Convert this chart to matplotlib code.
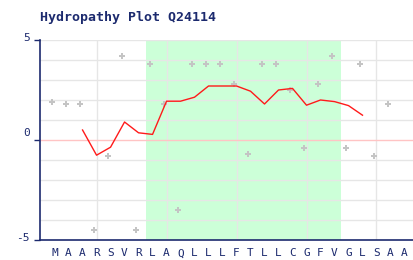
import numpy as np
import matplotlib
matplotlib.use("Agg")
import matplotlib.pyplot as plt
from matplotlib.transforms import blended_transform_factory

title = "Hydropathy Plot Q24114"
residues = ['M', 'A', 'A', 'R', 'S', 'V', 'R', 'L', 'A', 'Q', 'L', 'L', 'L',
            'F', 'T', 'L', 'L', 'C', 'G', 'F', 'V', 'G', 'L', 'S', 'A', 'A']
# per-residue values (grey dots), last residue has no dot in the picture
hydropathy = [1.9, 1.8, 1.8, -4.5, -0.8, 4.2, -4.5, 3.8, 1.8, -3.5, 3.8, 3.8, 3.8,
              2.8, -0.7, 3.8, 3.8, 2.5, -0.4, 2.8, 4.2, -0.4, 3.8, -0.8, 1.8]
# averaged curve (red), starts at residue 3
window_avg = [0.5, -0.76, -0.36, 0.9, 0.36, 0.28, 1.94, 1.94, 2.14, 2.7, 2.7,
              2.7, 2.44, 1.8, 2.5, 2.58, 1.74, 2.0, 1.92, 1.72, 1.24]
window_start = 3
tm_region = (8, 21)
y_ticks = [-5, 0, 5]

navy = '#1c2a6e'

fig = plt.figure(figsize=(4.14, 2.6), dpi=100)
ax = fig.add_axes([40 / 414, 20 / 260, 374 / 414, 200 / 260])

pos = np.arange(1, len(residues) + 1)

ax.axvspan(tm_region[0] - 0.5, tm_region[1] + 0.5, color='#ccffd8', lw=0, zorder=0)

for y in range(-4, 6):
    if y != 0:
        ax.axhline(y, color='#e6e6e6', lw=1, zorder=1)
for x in [4, 9, 14, 19, 24]:
    ax.axvline(x, color='#e6e6e6', lw=1, zorder=1)
ax.axhline(0, color='#ffc4c4', lw=1, zorder=2)

ax.plot(pos[:len(hydropathy)] - 0.16, hydropathy, linestyle='none', marker='P',
        markersize=4.5, color='#c4c4c4', markeredgewidth=0, zorder=3)
line_x = np.arange(window_start, window_start + len(window_avg))
ax.plot(line_x, window_avg, color='#ff1a1a', lw=1.0, zorder=4)

ax.set_xlim(-0.04, 26.68)
ax.set_ylim(-5, 5)

ax.set_xticks(pos)
ax.set_xticklabels(residues, family='DejaVu Sans Mono', fontsize=8, color=navy)
ax.tick_params(axis='x', length=0, pad=6)

ax.set_yticks(y_ticks)
ax.set_yticklabels([])
ax.tick_params(axis='y', length=4, width=1, color=navy, direction='out')
ax.yaxis.get_major_ticks()[1].tick1line.set_color('#ffc4c4')

tr = blended_transform_factory(ax.transAxes, ax.transData)
label_y = {-5: -4.88, 0: 0.35, 5: 5.1}
for t in y_ticks:
    ax.text(-0.028, label_y[t], str(t), transform=tr, ha='right', va='center',
            family='DejaVu Sans Mono', fontsize=8, color=navy, clip_on=False)

for s in ['top', 'right']:
    ax.spines[s].set_visible(False)
for s in ['left', 'bottom']:
    ax.spines[s].set_color(navy)
    ax.spines[s].set_linewidth(1.2)

fig.text(40 / 414, 1 - 18 / 260, title, family='DejaVu Sans Mono', fontweight='bold',
         fontsize=9.5, color=navy, ha='left', va='center')

fig.savefig('out.png', dpi=100)
